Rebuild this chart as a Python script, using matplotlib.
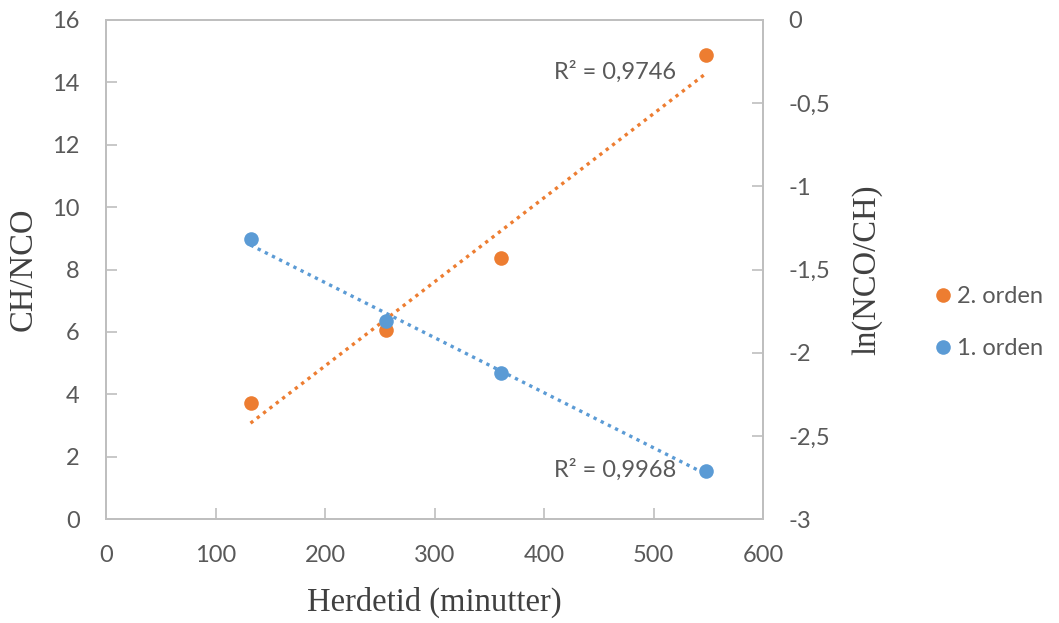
import numpy as np
import matplotlib
matplotlib.use("Agg")
import matplotlib.pyplot as plt
from matplotlib.ticker import FuncFormatter, MultipleLocator

# Curing data: time in minutes, 2nd order (CH/NCO) and 1st order (ln(NCO/CH))
herdetid = [132, 256, 361, 548]
orden2 = [3.72, 6.06, 8.37, 14.88]
orden1 = [-1.316, -1.81, -2.122, -2.711]
r2_orden2 = "0,9746"
r2_orden1 = "0,9968"

ORANGE = "#ED7D31"
BLUE = "#5B9BD5"
GRID = "#BFBFBF"
TXT = "#595959"

plt.rcParams['font.family'] = ['Lato', 'DejaVu Sans']
serif = ['Liberation Serif', 'DejaVu Serif']


def comma(v, _):
    return f"{v:g}".replace('.', ',')


def trend(x, y):
    k, m = np.polyfit(x, y, 1)
    xs = np.array([min(x), max(x)])
    return xs, k * xs + m


fig = plt.figure(figsize=(10.59, 6.23), dpi=100)
ax = fig.add_axes([0.1001, 0.1669, 0.6204, 0.8010])
ax2 = ax.twinx()

# second order on the left axis
xs, ys = trend(herdetid, orden2)
ax.plot(xs, ys, color=ORANGE, lw=2.4, linestyle=(0, (1, 1.4)))
ax.plot(herdetid, orden2, 'o', color=ORANGE, ms=10.5, mec='none')

# first order on the right axis
xs, ys = trend(herdetid, orden1)
ax2.plot(xs, ys, color=BLUE, lw=2.4, linestyle=(0, (1, 1.4)))
ax2.plot(herdetid, orden1, 'o', color=BLUE, ms=10.5, mec='none')

ax.set_xlim(0, 600)
ax.set_ylim(0, 16)
ax2.set_ylim(-3, 0)
ax.xaxis.set_major_locator(MultipleLocator(100))
ax.yaxis.set_major_locator(MultipleLocator(2))
ax2.yaxis.set_major_locator(MultipleLocator(0.5))
ax2.yaxis.set_major_formatter(FuncFormatter(comma))

for a in (ax, ax2):
    for s in a.spines.values():
        s.set_color(GRID)
        s.set_linewidth(1.3)
    a.tick_params(direction='in', length=8, width=1.2, color=GRID,
                  labelcolor=TXT, labelsize=17, pad=19)
ax2.tick_params(axis='y', pad=18)

lab = dict(family=serif, fontsize=23.5, color='#404040')
ax.set_xlabel("Herdetid (minutter)", **lab)
ax.set_ylabel("CH/NCO", **lab)
ax2.set_ylabel("ln(NCO/CH)", **lab)
ax.xaxis.set_label_coords(0.5, -0.136)
ax.yaxis.set_label_coords(-0.103, 0.5)
ax2.yaxis.set_label_coords(1.134, 0.5)

ax.text(521, 14.33, f"R² = {r2_orden2}", ha='right', va='center',
        fontsize=17, color=TXT)
ax.text(521, 1.57, f"R² = {r2_orden1}", ha='right', va='center',
        fontsize=17, color=TXT)

h2 = plt.Line2D([], [], ls='none', marker='o', color=ORANGE, ms=10.5, mec='none')
h1 = plt.Line2D([], [], ls='none', marker='o', color=BLUE, ms=10.5, mec='none')
leg = fig.legend([h2, h1], ["2. orden", "1. orden"], loc='center left',
                 bbox_to_anchor=(0.884, 0.482), frameon=False, fontsize=17,
                 handlelength=0.6, handletextpad=0.3, labelspacing=1.3,
                 borderpad=0, borderaxespad=0)
for t in leg.get_texts():
    t.set_color(TXT)

fig.savefig("out.png", dpi=100)
